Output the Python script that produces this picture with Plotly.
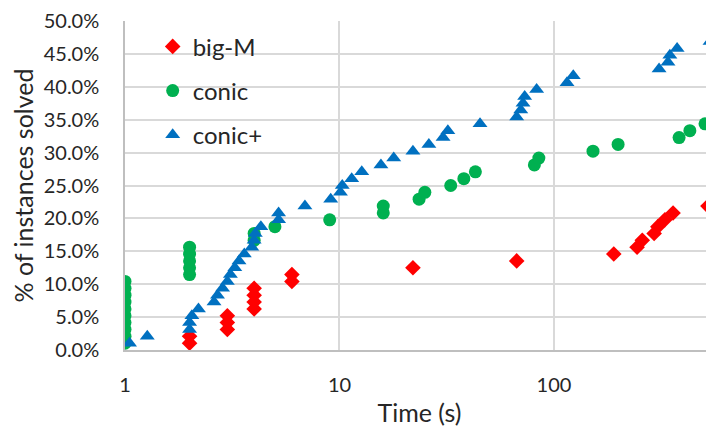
import plotly.graph_objects as go

# big-M
bigm_time = [2, 2, 3, 3, 3, 4, 4, 4, 4, 6, 6, 22, 67, 190, 244, 258, 293, 305, 329, 359, 522]
bigm_pct = [1.04, 2.08, 3.125, 4.17, 5.21, 6.25, 7.29, 8.33, 9.375, 10.42, 11.46, 12.5, 13.54,
            14.58, 15.625, 16.67, 17.71, 18.75, 19.79, 20.83, 21.875]

# conic
conic_time = [1, 1, 1, 1, 1, 1, 1, 1, 1, 1, 2, 2, 2, 2, 2, 4, 4, 5, 9, 16, 16, 23.5, 25, 33,
              38, 43, 81, 85, 152, 199, 383, 430, 506]
conic_pct = [1.04, 2.08, 3.125, 4.17, 5.21, 6.25, 7.29, 8.33, 9.375, 10.42, 11.46, 12.5, 13.54,
             14.58, 15.625, 16.67, 17.71, 18.75, 19.79, 20.83, 21.875, 22.92, 23.96, 25.0,
             26.04, 27.08, 28.125, 29.17, 30.21, 31.25, 32.29, 33.33, 34.375]

# conic+
conicp_time = [1.05, 1.27, 2.0, 2.0, 2.05, 2.2, 2.6, 2.7, 2.85, 3.0, 3.1, 3.25, 3.4, 3.6, 3.9,
               4.0, 4.05, 4.3, 5.2, 5.2, 6.9, 9.1, 10.1, 10.3, 11.4, 12.7, 15.6, 17.9, 22,
               26.1, 30.4, 32, 45.2, 67, 70, 71.7, 73, 83, 115, 123, 309, 340, 347, 375, 534]
conicp_pct = [1.04, 2.08, 3.125, 4.17, 5.21, 6.25, 7.29, 8.33, 9.375, 10.42, 11.46, 12.5, 13.54,
              14.58, 15.625, 16.67, 17.71, 18.75, 19.79, 20.83, 21.875, 22.92, 23.96, 25.0,
              26.04, 27.08, 28.125, 29.17, 30.21, 31.25, 32.29, 33.33, 34.375, 35.42, 36.46,
              37.5, 38.54, 39.58, 40.625, 41.67, 42.71, 43.75, 44.79, 45.83, 46.875]

y_ticks = [0, 5, 10, 15, 20, 25, 30, 35, 40, 45, 50]
x_ticks = [1, 10, 100]

FONT = "Lato"

fig = go.Figure()
fig.add_trace(go.Scatter(x=bigm_time, y=bigm_pct, mode="markers", name="big-M",
                         legendgroup="a",
                         marker=dict(symbol="diamond", size=12, color="#FF0000")))
fig.add_trace(go.Scatter(x=conic_time, y=conic_pct, mode="markers", name="conic",
                         legendgroup="b",
                         marker=dict(symbol="circle", size=13, color="#00B050")))
fig.add_trace(go.Scatter(x=conicp_time, y=conicp_pct, mode="markers", name="conic+",
                         legendgroup="c",
                         marker=dict(symbol="triangle-up", size=13, color="#0070C0")))

fig.update_layout(
    width=714, height=431,
    margin=dict(l=117, r=8, t=13, b=89),
    plot_bgcolor="white", paper_bgcolor="white",
    font=dict(family=FONT, size=20, color="#262626"),
    showlegend=True,
    legend=dict(x=0.047, y=0.99, xanchor="left", yanchor="top",
                bgcolor="rgba(0,0,0,0)", font=dict(size=24, color="#262626"),
                tracegroupgap=10, itemsizing="trace"),
    xaxis=dict(type="log", range=[0, 2.746], tickvals=x_ticks, ticktext=[str(v) for v in x_ticks],
               showgrid=True, gridcolor="#D9D9D9", gridwidth=1.5,
               showline=True, linecolor="#BFBFBF", linewidth=1.5,
               ticks="", zeroline=False, automargin=False, ticklabelstandoff=16,
               ticklabeloverflow="allow",
               title=dict(text="Time (s)", font=dict(size=25), standoff=10)),
    yaxis=dict(range=[0, 50], tickvals=y_ticks, ticktext=[f"{v:.1f}%" for v in y_ticks],
               showgrid=True, gridcolor="#D9D9D9", gridwidth=1.5,
               showline=True, linecolor="#BFBFBF", linewidth=1.5,
               ticks="", zeroline=False, automargin=False, ticklabelstandoff=20,
               ticklabeloverflow="allow",
               title=dict(text="% of instances solved", font=dict(size=25), standoff=14)),
)

fig.write_html("out.html")
